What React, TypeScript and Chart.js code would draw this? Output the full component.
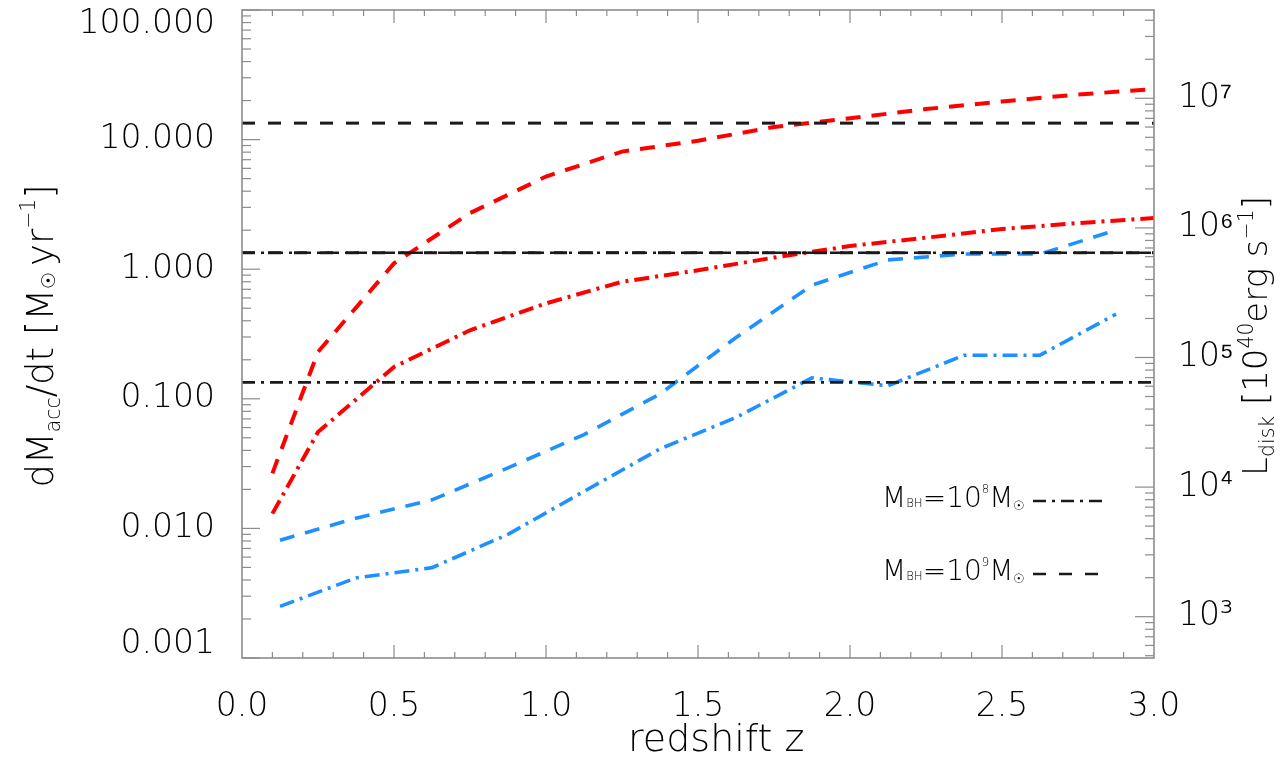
import { useEffect, useRef } from 'react';
import { Chart, registerables } from 'chart.js';

Chart.register(...registerables);

// Redshift grids of the two runs
const zRed = [0.1, 0.25, 0.5, 0.75, 1.0, 1.25, 1.5, 1.75, 2.0, 2.25, 2.5, 2.75, 3.0];
const zBlue = [0.125, 0.375, 0.625, 0.875, 1.125, 1.375, 1.625, 1.875, 2.125, 2.375, 2.625, 2.875];

// Accretion rates dM_acc/dt [M_sun / yr]
const redMass9 = [0.0266, 0.23, 1.11, 2.71, 5.19, 8.08, 9.8, 12.5, 14.6, 17.2, 19.7, 22.3, 24.5];
const redMass8 = [0.013, 0.0554, 0.176, 0.338, 0.545, 0.8, 0.98, 1.23, 1.51, 1.75, 2.04, 2.27, 2.48];
const blueMass9 = [0.0081, 0.012, 0.0166, 0.0293, 0.053, 0.109, 0.297, 0.754, 1.18, 1.31, 1.31, 2.0];
const blueMass8 = [0.0025, 0.00415, 0.00498, 0.009, 0.0193, 0.0411, 0.0717, 0.145, 0.126, 0.217, 0.217, 0.45];

// Horizontal reference rates [M_sun / yr]
const dashedLevels = [13.4, 1.34];
const dashDotLevels = [1.34, 0.134];

// Axis ranges and labelled ticks
const zLimits = [0, 3];
const rateLimits = [0.001, 100];
const LUM_PER_RATE = 4.8e5; // L_disk in 10^40 erg/s per M_sun/yr
const zTickValues = [0, 0.5, 1, 1.5, 2, 2.5, 3];
const rateTickValues = [0.001, 0.01, 0.1, 1, 10, 100];
const lumTickValues = [1e3, 1e4, 1e5, 1e6, 1e7];

const FAMILY = '"DejaVu Sans", "Liberation Sans", sans-serif';
const WEIGHT = '300';
const TEXT = '#000000';
const AXIS = '#8c8c8c';
const RED = '#ff0000';
const BLUE = '#1e90ff';
const BLACK = '#1a1a1a';

const DASH = [15, 11];
const DASH_DOT = [15, 6, 3, 6];
const BLACK_DASH = [13, 13];
const BLACK_DASH_DOT = [13, 6, 3, 6];

const SUPS = '⁰¹²³⁴⁵⁶⁷⁸⁹';
const toSup = (n: number) => String(n).split('').map((c) => SUPS[Number(c)]).join('');

type Part = { t: string; s?: number; dy?: number };

function drawRich(
  ctx: CanvasRenderingContext2D,
  parts: Part[],
  size: number,
  x: number,
  y: number,
  align: 'left' | 'center',
  angle = 0,
) {
  ctx.save();
  ctx.translate(x, y);
  if (angle) ctx.rotate(angle);
  ctx.fillStyle = TEXT;
  ctx.textBaseline = 'alphabetic';
  ctx.textAlign = 'left';
  const font = (px: number) => `${WEIGHT} ${px}px ${FAMILY}`;
  const widths = parts.map((p) => {
    ctx.font = font(size * (p.s ?? 1));
    return ctx.measureText(p.t).width;
  });
  const total = widths.reduce((a, b) => a + b, 0);
  let cx = align === 'center' ? -total / 2 : 0;
  parts.forEach((p, i) => {
    ctx.font = font(size * (p.s ?? 1));
    ctx.fillText(p.t, cx, (p.dy ?? 0) * size);
    cx += widths[i];
  });
  ctx.restore();
}

function strokeLine(ctx: CanvasRenderingContext2D, x1: number, y1: number, x2: number, y2: number) {
  ctx.beginPath();
  ctx.moveTo(x1, y1);
  ctx.lineTo(x2, y2);
  ctx.stroke();
}

// Frame with inward ticks, axis titles with sub/superscripts, and the line-style key
const decorations = {
  id: 'decorations',
  afterDatasetsDraw(chart: any) {
    const { ctx, chartArea: a, scales } = chart;
    const xs = scales.x;
    const ys = scales.y;
    const y2s = scales.y2;
    ctx.save();
    ctx.strokeStyle = AXIS;
    ctx.setLineDash([]);

    ctx.lineWidth = 1.2;
    for (let i = 1; i < 30; i++) {
      const px = xs.getPixelForValue(i / 10);
      const len = i % 5 === 0 ? 13 : 6;
      strokeLine(ctx, px, a.bottom, px, a.bottom - len);
      strokeLine(ctx, px, a.top, px, a.top + len);
    }
    for (let e = -3; e <= 2; e++) {
      for (let m = 1; m <= 9; m++) {
        const v = m * Math.pow(10, e);
        if (v > rateLimits[1] * 1.0001) break;
        const py = ys.getPixelForValue(v);
        strokeLine(ctx, a.left, py, a.left + (m === 1 ? 18 : 9), py);
      }
    }
    for (let e = 2; e <= 7; e++) {
      for (let m = 1; m <= 9; m++) {
        const v = m * Math.pow(10, e);
        if (v < y2s.min || v > y2s.max) continue;
        const py = y2s.getPixelForValue(v);
        strokeLine(ctx, a.right, py, a.right - (m === 1 ? 19 : 9), py);
      }
    }

    ctx.lineWidth = 1.6;
    ctx.strokeRect(a.left, a.top, a.right - a.left, a.bottom - a.top);
    ctx.restore();
  },
  afterDraw(chart: any) {
    const { ctx, chartArea: a, scales } = chart;
    const midY = (a.top + a.bottom) / 2 + 2;

    // x-axis title, set slightly right of the axis midpoint
    drawRich(ctx, [{ t: 'redshift z' }], 38, scales.x.getPixelForValue(1.56), a.bottom + 93, 'center');

    drawRich(
      ctx,
      [
        { t: 'dM' },
        { t: 'acc', s: 0.55, dy: 0.2 },
        { t: '/dt [' },
        { t: 'M' },
        { t: '☉ ', s: 0.5, dy: 0.05 },
        { t: 'yr' },
        { t: '−1', s: 0.55, dy: -0.5 },
        { t: ']' },
      ],
      37,
      53,
      midY,
      'center',
      -Math.PI / 2,
    );

    drawRich(
      ctx,
      [
        { t: 'L' },
        { t: 'disk', s: 0.6, dy: 0.2 },
        { t: ' [10' },
        { t: '40', s: 0.6, dy: -0.42 },
        { t: 'erg s' },
        { t: '−1', s: 0.6, dy: -0.42 },
        { t: ']' },
      ],
      34,
      1267,
      midY,
      'center',
      -Math.PI / 2,
    );

    const keyX = a.left + 640;
    const keyRows = [
      { exp: '8', base: a.top + 497, dash: BLACK_DASH_DOT, end: 1107 },
      { exp: '9', base: a.top + 570, dash: BLACK_DASH, end: 1100 },
    ];
    keyRows.forEach((row) => {
      drawRich(
        ctx,
        [
          { t: 'M' },
          { t: 'BH', s: 0.42 },
          { t: '=10' },
          { t: row.exp, s: 0.42, dy: -0.5 },
          { t: 'M' },
          { t: '☉', s: 0.45, dy: 0.1 },
        ],
        28,
        keyX,
        row.base,
        'left',
      );
      ctx.save();
      ctx.strokeStyle = BLACK;
      ctx.lineWidth = 2.5;
      ctx.setLineDash(row.dash);
      strokeLine(ctx, 1033, row.base - 6, row.end, row.base - 6);
      ctx.restore();
    });
  },
};

function series(xs: number[], ys: number[], color: string, dash: number[], width: number) {
  return {
    data: xs.map((x, i) => ({ x, y: ys[i] })),
    borderColor: color,
    backgroundColor: color,
    borderDash: dash,
    borderWidth: width,
    pointRadius: 0,
    fill: false,
    tension: 0,
    xAxisID: 'x',
    yAxisID: 'y',
  };
}

export default function App() {
  const canvasRef = useRef<HTMLCanvasElement | null>(null);

  useEffect(() => {
    if (!canvasRef.current) return;
    const tickFont = { family: FAMILY, size: 33, weight: WEIGHT, lineHeight: '28px' };

    const datasets = [
      ...dashedLevels.map((v) => series(zLimits, zLimits.map(() => v), BLACK, BLACK_DASH, 3)),
      ...dashDotLevels.map((v) => series(zLimits, zLimits.map(() => v), BLACK, BLACK_DASH_DOT, 2.6)),
      series(zRed, redMass9, RED, DASH, 4),
      series(zRed, redMass8, RED, DASH_DOT, 4),
      series(zBlue, blueMass9, BLUE, DASH, 3.6),
      series(zBlue, blueMass8, BLUE, DASH_DOT, 3.6),
    ];

    const chart = new Chart(canvasRef.current, {
      type: 'line',
      data: { datasets },
      options: {
        animation: false,
        responsive: false,
        events: [],
        layout: { padding: { top: 10, left: 0, right: 0, bottom: 0 } },
        plugins: { legend: { display: false }, tooltip: { enabled: false } },
        scales: {
          x: {
            type: 'linear',
            position: 'bottom',
            min: zLimits[0],
            max: zLimits[1],
            grid: { display: false },
            border: { display: false },
            afterBuildTicks: (s: any) => {
              s.ticks = zTickValues.map((value) => ({ value }));
            },
            ticks: {
              autoSkip: false,
              maxRotation: 0,
              padding: 27,
              color: TEXT,
              font: tickFont,
              callback: (v: any) => Number(v).toFixed(1),
            },
            afterFit: (s: any) => {
              s.height = 103;
              s.paddingLeft = 0;
              s.paddingRight = 0;
            },
          },
          y: {
            type: 'logarithmic',
            position: 'left',
            min: rateLimits[0],
            max: rateLimits[1],
            grid: { display: false },
            border: { display: false },
            afterBuildTicks: (s: any) => {
              s.ticks = rateTickValues.map((value) => ({ value }));
            },
            ticks: {
              autoSkip: false,
              padding: 19,
              color: TEXT,
              font: tickFont,
              callback: (v: any) => {
                const label = Number(v).toFixed(3);
                if (Number(v) >= rateLimits[1]) return ['', label];
                if (Number(v) <= rateLimits[0]) return [label, ''];
                return label;
              },
            },
            afterFit: (s: any) => {
              s.width = 242;
              s.paddingTop = 0;
              s.paddingBottom = 0;
            },
          },
          y2: {
            type: 'logarithmic',
            position: 'right',
            min: rateLimits[0] * LUM_PER_RATE,
            max: rateLimits[1] * LUM_PER_RATE,
            grid: { display: false },
            border: { display: false },
            afterBuildTicks: (s: any) => {
              s.ticks = lumTickValues.map((value) => ({ value }));
            },
            ticks: {
              autoSkip: false,
              padding: 16,
              color: TEXT,
              font: tickFont,
              callback: (v: any) => '10' + toSup(Math.round(Math.log10(Number(v)))),
            },
            afterFit: (s: any) => {
              s.width = 126;
              s.paddingTop = 0;
              s.paddingBottom = 0;
            },
          },
        },
      },
      plugins: [decorations],
    } as any);

    return () => chart.destroy();
  }, []);

  return (
    <div style={{ position: 'fixed', left: 0, top: 0, width: 1280, height: 761, background: '#ffffff' }}>
      <canvas ref={canvasRef} width={1280} height={761} style={{ display: 'block' }} />
    </div>
  );
}
